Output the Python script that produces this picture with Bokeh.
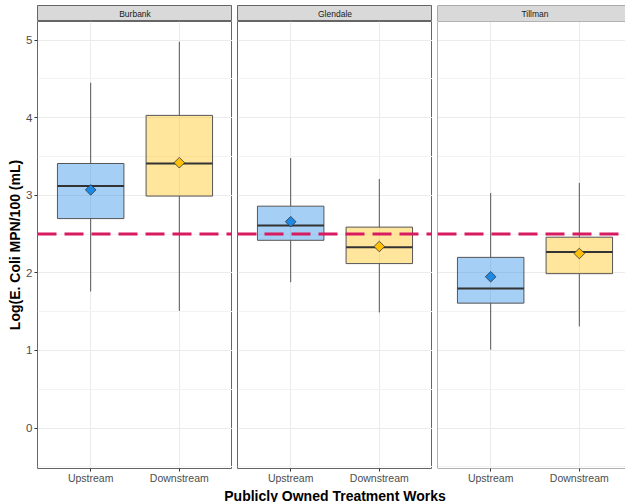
import numpy as np
from bokeh.plotting import figure
from bokeh.layouts import row, column
from bokeh.models import Range1d, FixedTicker, Span, ColumnDataSource
from bokeh.transform import dodge
from bokeh.core.properties import value
from bokeh.embed import file_html
from bokeh.resources import INLINE

# facets and categories
plants = ["Burbank", "Glendale", "Tillman"]
positions = ["Upstream", "Downstream"]

# log10 E. coli summaries per plant, ordered [Upstream, Downstream]
whisker_low = {"Burbank": [1.76, 1.51], "Glendale": [1.88, 1.49], "Tillman": [1.01, 1.31]}
quartile_1 = {"Burbank": [2.70, 2.99], "Glendale": [2.42, 2.12], "Tillman": [1.61, 1.99]}
medians = {"Burbank": [3.12, 3.41], "Glendale": [2.61, 2.33], "Tillman": [1.80, 2.27]}
quartile_3 = {"Burbank": [3.41, 4.03], "Glendale": [2.86, 2.59], "Tillman": [2.20, 2.46]}
whisker_high = {"Burbank": [4.45, 4.98], "Glendale": [3.48, 3.21], "Tillman": [3.03, 3.16]}
means = {"Burbank": [3.07, 3.42], "Glendale": [2.66, 2.34], "Tillman": [1.95, 2.25]}

# single-sample standard (log scale)
threshold = 2.5

y_ticks = [0, 1, 2, 3, 4, 5]
y_minor = [-0.5, 0.5, 1.5, 2.5, 3.5, 4.5]

x_title = "Publicly Owned Treatment Works"
y_title = "Log(E. Coli MPN/100 (mL)"

colors = ["#1E88E5", "#FFC107"]
FONT = "Liberation Sans"
BOX_W = 0.75
X_LO, X_HI = 0.4, 2.6
AXIS_W = 37
GAP = 5
PANEL_W = 195
LAST_W = 188
PANEL_H = 447
PX_PER_UNIT = 77.59
Y_HI = 5.24
Y_LO = Y_HI - PANEL_H / PX_PER_UNIT
STRIP_TOP, STRIP_H = 5, 16
AXIS_H = 20
TOTAL_W, TOTAL_H = 625, 502
BORDER = "#666666"


def style_grid(p):
    p.xgrid.ticker = FixedTicker(ticks=list(range(1, len(positions) + 1)), minor_ticks=[])
    p.ygrid.ticker = FixedTicker(ticks=y_ticks, minor_ticks=y_minor)
    p.xgrid.grid_line_color = "#EBEBEB"
    p.ygrid.grid_line_color = "#EBEBEB"
    p.ygrid.minor_grid_line_color = "#F3F3F3"
    p.xgrid.grid_line_width = 1
    p.ygrid.grid_line_width = 1


def open_border(p, x0, y0, y1):
    # left/top/bottom frame edges only (right edge runs past the page)
    p.outline_line_color = None
    p.add_layout(Span(location=x0, dimension="height", line_color=BORDER, line_width=1))
    p.add_layout(Span(location=y0, dimension="width", line_color=BORDER, line_width=1))
    p.add_layout(Span(location=y1, dimension="width", line_color=BORDER, line_width=1))


def make_strip(i, plant, x_range, fw, left):
    s = figure(title=None, frame_width=fw, frame_height=STRIP_H, x_range=x_range,
               y_range=Range1d(0, 1),
               min_border_left=left, min_border_right=0, min_border_top=STRIP_TOP,
               min_border_bottom=0, x_axis_location=None, y_axis_location=None,
               output_backend="svg", toolbar_location=None)
    s.grid.visible = False
    s.background_fill_color = "#D9D9D9"
    s.border_fill_color = "white"
    if i == len(plants) - 1:
        open_border(s, x_range.start, 0, 1)
    else:
        s.outline_line_color = BORDER
    xs = np.arange(1, len(positions) + 1)
    s.text(x=[float(np.mean(xs))], y=[0.5], text=[plant], text_align="center",
           text_baseline="middle", text_font_size="8.5px", text_color="#1A1A1A",
           text_font=value(FONT))
    return s


def make_panel(i, plant):
    first = i == 0
    cropped = i == len(plants) - 1
    fw = LAST_W if cropped else PANEL_W
    x_end = X_LO + (X_HI - X_LO) * fw / PANEL_W
    x_range = Range1d(X_LO, x_end)
    left = AXIS_W if first else GAP

    p = figure(title=None, frame_width=fw, frame_height=PANEL_H, x_range=x_range,
               y_range=Range1d(Y_LO, Y_HI),
               min_border_left=left, min_border_right=0, min_border_top=0,
               min_border_bottom=AXIS_H,
               y_axis_location="left" if first else None,
               output_backend="svg", toolbar_location=None)
    p.background_fill_color = "white"
    p.border_fill_color = "white"
    style_grid(p)

    xs = np.arange(1, len(positions) + 1)
    src = ColumnDataSource(dict(
        x=xs, lo=whisker_low[plant], q1=quartile_1[plant], med=medians[plant],
        q3=quartile_3[plant], hi=whisker_high[plant], mean=means[plant], color=colors,
    ))

    # whiskers
    p.segment(x0="x", y0="lo", x1="x", y1="q1", source=src, line_color="#555555", line_width=1)
    p.segment(x0="x", y0="q3", x1="x", y1="hi", source=src, line_color="#555555", line_width=1)
    # boxes
    p.vbar(x="x", width=BOX_W, bottom="q1", top="q3", source=src,
           fill_color="color", fill_alpha=0.4, line_color="#555555", line_width=1)
    # medians
    p.segment(x0=dodge("x", -BOX_W / 2), y0="med", x1=dodge("x", BOX_W / 2), y1="med",
              source=src, line_color="#333333", line_width=2)
    # means
    p.scatter(x="x", y="mean", source=src, marker="square", angle=np.pi / 4, size=7.5,
              fill_color="color", line_color="#333333", line_width=0.8)

    p.add_layout(Span(location=threshold, dimension="width", line_color="#D81B60",
                      line_width=3, line_dash="19 8"))

    # x axis
    ax = p.xaxis[0]
    ax.ticker = FixedTicker(ticks=list(xs), minor_ticks=[])
    ax.major_label_overrides = {int(x): lab for x, lab in zip(xs, positions)}
    ax.axis_line_color = None
    ax.major_tick_out = 3
    ax.major_tick_in = 0
    ax.minor_tick_out = 0
    ax.minor_tick_in = 0
    ax.major_tick_line_color = "#333333"
    ax.major_label_standoff = 0
    ax.axis_label_standoff = 0
    ax.major_label_text_font = FONT
    ax.major_label_text_font_size = "10.5px"
    ax.major_label_text_color = "#4D4D4D"

    if first:
        ay = p.yaxis[0]
        ay.ticker = FixedTicker(ticks=y_ticks, minor_ticks=y_minor)
        ay.axis_line_color = None
        ay.major_tick_out = 3
        ay.major_tick_in = 0
        ay.minor_tick_out = 0
        ay.minor_tick_in = 0
        ay.major_tick_line_color = "#333333"
        ay.major_label_standoff = 2
        ay.major_label_text_font = FONT
        ay.major_label_text_font_size = "11.5px"
        ay.major_label_text_color = "#4D4D4D"
        ay.axis_label = y_title
        ay.axis_label_standoff = 0
        ay.axis_label_text_font = FONT
        ay.axis_label_text_font_size = "14px"
        ay.axis_label_text_font_style = "bold"
        ay.axis_label_text_color = "black"

    if cropped:
        open_border(p, X_LO, Y_LO, Y_HI)
    else:
        p.outline_line_color = BORDER
        p.outline_line_width = 1

    strip = make_strip(i, plant, x_range, fw, left)
    return column(strip, p)


panels = row(*[make_panel(i, name) for i, name in enumerate(plants)])

# shared x-axis title, centred under the full width of the facet panels
title_h = TOTAL_H - STRIP_TOP - STRIP_H - PANEL_H - AXIS_H
title_fig = figure(title=None, frame_width=TOTAL_W, frame_height=title_h,
                   x_range=Range1d(0, TOTAL_W), y_range=Range1d(0, title_h),
                   min_border=0, x_axis_location=None, y_axis_location=None,
                   output_backend="svg", toolbar_location=None)
title_fig.grid.visible = False
title_fig.outline_line_color = None
panels_mid = AXIS_W + (len(plants) * PANEL_W + (len(plants) - 1) * GAP) / 2
title_fig.text(x=[panels_mid], y=[7], text=[x_title], text_align="center",
               text_baseline="alphabetic", text_font_size="14px", text_font_style="bold",
               text_color="black", text_font=value(FONT))

layout = column(panels, title_fig)

open("out.html", "w").write(file_html(layout, INLINE))
